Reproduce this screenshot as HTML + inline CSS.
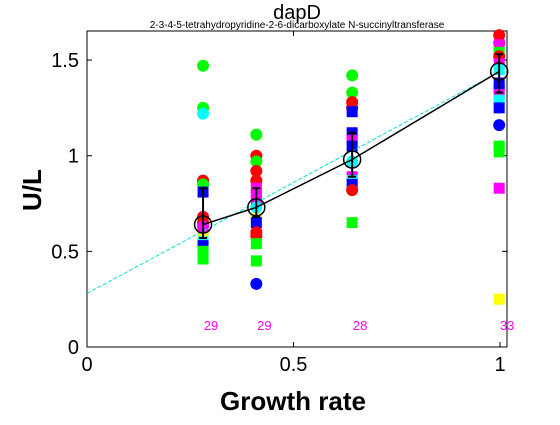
<!DOCTYPE html>
<html><head><meta charset="utf-8"><style>
body{margin:0;background:#fff;width:560px;height:420px;overflow:hidden}
svg{font-family:"Liberation Sans",sans-serif}
</style></head><body>
<svg id="c" width="560" height="420">
<text x="297" y="19" font-size="20" text-anchor="middle">dapD</text>
<text x="297" y="28" font-size="10" text-anchor="middle">2-3-4-5-tetrahydropyridine-2-6-dicarboxylate N-succinyltransferase</text>
<text transform="translate(41,190) rotate(-90)" font-size="26" font-weight="bold" text-anchor="middle">U/L</text>
<text x="293" y="410" font-size="26" font-weight="bold" text-anchor="middle">Growth rate</text>
<g id="marks"></g>
</svg>
<script>
const xs=[0.281,0.41,0.642,0.998];
const counts=["29","29","28","33"];
const means=[0.64,0.73,0.98,1.44];
const errLo=[0.57,0.68,0.89,1.33];
const errHi=[0.83,0.83,1.12,1.53];
const fitIntercept=0.28, fitSlope=1.16;
const xTicks=[0,0.5,1], xTickLabels=["0","0.5","1"];
const yTicks=[0,0.5,1,1.5], yTickLabels=["0","0.5","1","1.5"];
// [column, value, color, shape]
const pts=[
[0,1.47,'#0f0','c'],[0,1.25,'#0f0','c'],[0,1.22,'#0ff','c'],[0,0.87,'#f00','c'],[0,0.85,'#0f0','c'],[0,0.81,'#00f','s'],[0,0.68,'#f00','c'],[0,0.65,'#f00','c'],[0,0.63,'#f0f','c'],[0,0.60,'#f0f','s'],[0,0.57,'#ff0','s'],[0,0.55,'#0ff','s'],[0,0.53,'#00f','s'],[0,0.50,'#0f0','s'],[0,0.46,'#0f0','s'],
[1,1.11,'#0f0','c'],[1,1.00,'#f00','c'],[1,0.97,'#0f0','c'],[1,0.92,'#f00','c'],[1,0.87,'#f00','c'],[1,0.83,'#f0f','s'],[1,0.80,'#f0f','s'],[1,0.77,'#f0f','s'],[1,0.73,'#0ff','c'],[1,0.67,'#ff0','s'],[1,0.65,'#00f','s'],[1,0.60,'#f00','c'],[1,0.58,'#f00','c'],[1,0.54,'#0f0','s'],[1,0.45,'#0f0','s'],[1,0.33,'#00f','c'],
[2,1.42,'#0f0','c'],[2,1.33,'#0f0','c'],[2,1.28,'#f00','c'],[2,1.25,'#f00','c'],[2,1.23,'#00f','s'],[2,1.12,'#00f','s'],[2,1.08,'#f0f','s'],[2,1.05,'#00f','s'],[2,0.97,'#0ff','c'],[2,0.89,'#f0f','s'],[2,0.87,'#0ff','s'],[2,0.85,'#00f','s'],[2,0.82,'#f00','c'],[2,0.65,'#0f0','s'],
[3,1.63,'#f00','c'],[3,1.59,'#f00','c'],[3,1.58,'#f0f','s'],[3,1.54,'#0f0','s'],[3,1.52,'#f00','c'],[3,1.48,'#f0f','s'],[3,1.45,'#0ff','s'],[3,1.38,'#00f','s'],[3,1.35,'#00f','s'],[3,1.32,'#f0f','s'],[3,1.29,'#0ff','s'],[3,1.25,'#00f','s'],[3,1.16,'#00f','c'],[3,1.05,'#0f0','s'],[3,1.02,'#0f0','s'],[3,0.83,'#f0f','s'],[3,0.25,'#ff0','s']
];
const L=87,R=507,T=31,B=347;
const X=v=>L+v*413, Y=v=>B-v*191.3;
const NS='http://www.w3.org/2000/svg';
const g=document.getElementById('marks');
function mk(t,a,p){const e=document.createElementNS(NS,t);for(const k in a)e.setAttribute(k,a[k]);(p||g).appendChild(e);return e;}
let e;
e=mk('rect',{x:L,y:T,width:R-L,height:B-T,fill:'none',stroke:'#000'});


xTicks.forEach((v,i)=>{
 mk('line',{x1:X(v),x2:X(v),y1:B,y2:B-5,stroke:'#000'});
 mk('line',{x1:X(v),x2:X(v),y1:T,y2:T+5,stroke:'#000'});
 e=mk('text',{x:X(v),y:B+24,'font-size':20,'text-anchor':'middle'});e.textContent=xTickLabels[i];
 
 
});
yTicks.forEach((v,i)=>{
 mk('line',{x1:L,x2:L+5,y1:Y(v),y2:Y(v),stroke:'#000'});
 mk('line',{x1:R,x2:R-5,y1:Y(v),y2:Y(v),stroke:'#000'});
 e=mk('text',{x:L-8,y:Y(v)+7,'font-size':20,'text-anchor':'end'});e.textContent=yTickLabels[i];
 
 
});
pts.forEach(p=>{
 const cx=X(xs[p[0]]),cy=Y(p[1]);
 if(p[3]==='c') e=mk('circle',{cx:cx,cy:cy,r:6,fill:p[2]});
 else e=mk('rect',{x:cx-5.5,y:cy-5.5,width:11,height:11,fill:p[2]});
 
 
});
e=mk('line',{x1:X(0),y1:Y(fitIntercept),x2:X(1),y2:Y(fitIntercept+fitSlope),stroke:'#0dd','stroke-dasharray':'4,2'});


e=mk('polyline',{points:xs.map((x,i)=>X(x)+','+Y(means[i])).join(' '),fill:'none',stroke:'#000','stroke-width':1.5});


xs.forEach((x,i)=>{
 const cx=X(x);
 e=mk('path',{d:`M${cx},${Y(errLo[i])}V${Y(errHi[i])}M${cx-4},${Y(errLo[i])}h8M${cx-4},${Y(errHi[i])}h8`,stroke:'#000','stroke-width':2,fill:'none'});
 
 
 e=mk('circle',{cx:cx,cy:Y(means[i]),r:8.5,fill:'none',stroke:'#000','stroke-width':1.5});
 
 
 e=mk('text',{x:cx+8,y:330,'font-size':13,fill:'#f0f','text-anchor':'middle'});e.textContent=counts[i];
 
 
});
</script>
</body></html>
